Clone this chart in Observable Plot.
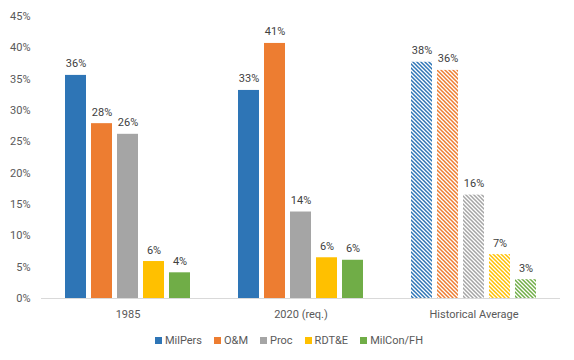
<!DOCTYPE html>
<html>
<head>
<meta charset="utf-8">
<script src="https://cdn.jsdelivr.net/npm/d3@7"></script>
<script src="https://cdn.jsdelivr.net/npm/@observablehq/plot@0.6"></script>
<style>
  html, body { margin: 0; padding: 0; background: #fff; }
  #chart { width: 574px; font-family: Roboto, "Liberation Sans", sans-serif; }
  .legend { display: flex; justify-content: center; align-items: center; gap: 12px; font-size: 11px; color: #595959; height: 28px; margin-top: 0px; padding-left: 4px; }
  .legend span.item { display: inline-flex; align-items: center; }
  .legend span.sw { width: 7px; height: 7px; display: inline-block; margin-right: 3px; }
</style>
</head>
<body>
<div id="chart"></div>
<script>
const groups = ["1985", "2020 (req.)", "Historical Average"];
const series = ["MilPers", "O&M", "Proc", "RDT&E", "MilCon/FH"];
const colors = ["#2E75B6", "#ED7D31", "#A5A5A5", "#FFC000", "#70AD47"];
const values1985 = [35.6, 27.9, 26.2, 5.9, 4.1];
const values2020 = [33.2, 40.7, 13.8, 6.5, 6.1];
const valuesHist = [37.7, 36.4, 16.5, 7.0, 3.0];
const labels1985 = ["36%", "28%", "26%", "6%", "4%"];
const labels2020 = ["33%", "41%", "14%", "6%", "6%"];
const labelsHist = ["38%", "36%", "16%", "7%", "3%"];
const yTicks = [0, 5, 10, 15, 20, 25, 30, 35, 40, 45];

const allValues = [values1985, values2020, valuesHist];
const allLabels = [labels1985, labels2020, labelsHist];
const data = [];
groups.forEach((g, gi) => {
  series.forEach((s, si) => {
    data.push({group: g, series: s, value: allValues[gi][si], label: allLabels[gi][si],
      fill: gi === 2 ? `url(#hatch${si})` : colors[si]});
  });
});

const plot = Plot.plot({
  width: 574,
  height: 326,
  marginLeft: 40,
  marginRight: 14,
  marginTop: 16,
  marginBottom: 28,
  style: {fontFamily: 'Roboto, "Liberation Sans", sans-serif', fontSize: "11px", color: "#595959", background: "#fff"},
  fx: {domain: groups, padding: 0, label: null, tickSize: 0, tickPadding: 12},
  x: {domain: series, paddingInner: 0.2, paddingOuter: 0.87, axis: null},
  y: {domain: [0, 45], ticks: yTicks, tickFormat: d => d + "%", tickSize: 0, tickPadding: 11, label: null},
  color: {type: "identity"},
  marks: [
    Plot.barY(data, {fx: "group", x: "series", y: "value", fill: "fill"}),
    Plot.ruleY([0], {stroke: "#D9D9D9", strokeWidth: 1}),
    Plot.text(data, {fx: "group", x: "series", y: "value", text: "label", lineAnchor: "bottom", dy: -8, fill: "#404040", fontSize: 11})
  ]
});

// hatch patterns
const ns = "http://www.w3.org/2000/svg";
const defs = document.createElementNS(ns, "defs");
colors.forEach((c, i) => {
  const p = document.createElementNS(ns, "pattern");
  p.setAttribute("id", "hatch" + i);
  p.setAttribute("patternUnits", "userSpaceOnUse");
  p.setAttribute("width", "4");
  p.setAttribute("height", "4");
  const r = document.createElementNS(ns, "rect");
  r.setAttribute("width", "4"); r.setAttribute("height", "4"); r.setAttribute("fill", "#fff");
  p.appendChild(r);
  const path = document.createElementNS(ns, "path");
  path.setAttribute("d", "M-1,-1L5,5M3,-1L5,1M-1,3L1,5");
  path.setAttribute("stroke", c);
  path.setAttribute("stroke-width", "1.5");
  p.appendChild(path);
  defs.appendChild(p);
});
plot.insertBefore(defs, plot.firstChild);

const chart = document.getElementById("chart");
chart.appendChild(plot);

const legend = document.createElement("div");
legend.className = "legend";
series.forEach((s, i) => {
  const item = document.createElement("span");
  item.className = "item";
  const sw = document.createElement("span");
  sw.className = "sw";
  sw.style.background = colors[i];
  item.appendChild(sw);
  item.appendChild(document.createTextNode(s));
  legend.appendChild(item);
});
chart.appendChild(legend);
</script>
</body>
</html>
